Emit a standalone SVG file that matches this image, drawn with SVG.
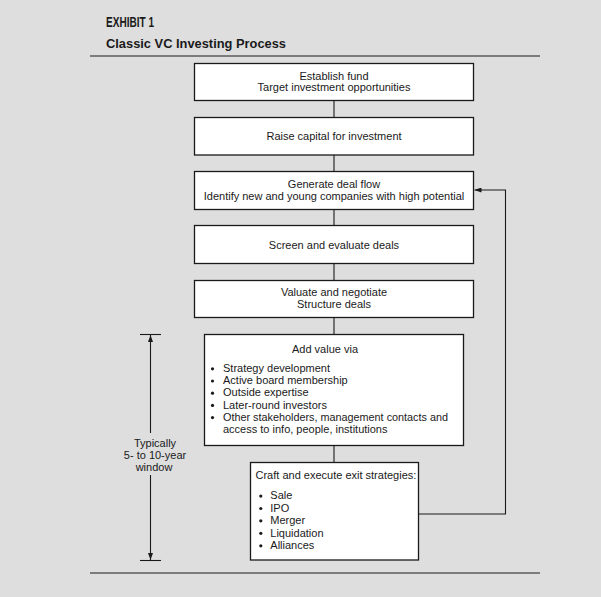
<svg xmlns="http://www.w3.org/2000/svg" width="601" height="597" viewBox="0 0 601 597">
<style>
.bg{fill:#dedede}
.box{fill:#fff;stroke:#1a1a1a;stroke-width:1.3}
.rule{stroke:#1a1a1a;stroke-width:1.2}
.ln{fill:none;stroke:#1a1a1a;stroke-width:1.1}
.bul{fill:#1a1a1a}
text{font-family:"Liberation Sans",Arial,sans-serif;font-size:11px;fill:#1a1a1a}
.c{text-anchor:middle}
.t1{font-weight:bold;font-size:14px}
.t2{font-weight:bold;font-size:13px}
</style>
<defs>
<marker id="ah" viewBox="0 0 7 5" refX="7" refY="2.5" markerWidth="7" markerHeight="5" markerUnits="userSpaceOnUse" orient="auto">
<path d="M0,0 L7,2.5 L0,5 Z" fill="#1a1a1a"/>
</marker>
</defs>
<rect class="bg" x="0" y="0" width="601" height="597"/>
<g id="title">
<text class="t1" x="106" y="27" textLength="48" lengthAdjust="spacingAndGlyphs">EXHIBIT 1</text>
<text class="t2" x="106" y="48" textLength="180" lengthAdjust="spacingAndGlyphs">Classic VC Investing Process</text>
</g>
<line class="rule" x1="90" y1="56" x2="540" y2="56"/>
<line class="rule" x1="90" y1="573" x2="540" y2="573"/>
<g id="connectors">
<line class="ln" x1="334" y1="100" x2="334" y2="117"/>
<line class="ln" x1="334" y1="155" x2="334" y2="171"/>
<line class="ln" x1="334" y1="209" x2="334" y2="225"/>
<line class="ln" x1="334" y1="263" x2="334" y2="280"/>
<line class="ln" x1="334" y1="317" x2="334" y2="334"/>
<line class="ln" x1="334" y1="445" x2="334" y2="462"/>
<polyline class="ln" points="418,514 505.5,514 505.5,190 474.5,190" marker-end="url(#ah)"/>
<line class="ln" x1="150.5" y1="433" x2="150.5" y2="335" marker-end="url(#ah)"/>
<line class="ln" x1="150.5" y1="475" x2="150.5" y2="560" marker-end="url(#ah)"/>
<line class="ln" x1="140" y1="334.5" x2="161" y2="334.5"/>
<line class="ln" x1="140" y1="560.5" x2="161" y2="560.5"/>
</g>
<g id="window-label">
<text class="c" x="155" y="447">Typically</text>
<text class="c" x="155" y="459">5- to 10-year</text>
<text class="c" x="154" y="470.5">window</text>
</g>
<g id="n1">
<rect class="box" x="194.5" y="63.5" width="279" height="37"/>
<text class="c" x="334" y="79.5">Establish fund</text>
<text class="c" x="334" y="91">Target investment opportunities</text>
</g>
<g id="n2">
<rect class="box" x="194.5" y="117.5" width="279" height="37.5"/>
<text class="c" x="334" y="140">Raise capital for investment</text>
</g>
<g id="n3">
<rect class="box" x="194.5" y="171.5" width="279" height="38"/>
<text class="c" x="334" y="187.5">Generate deal flow</text>
<text class="c" x="334" y="199.5">Identify new and young companies with high potential</text>
</g>
<g id="n4">
<rect class="box" x="194.5" y="225.5" width="279" height="38"/>
<text class="c" x="334" y="248.5">Screen and evaluate deals</text>
</g>
<g id="n5">
<rect class="box" x="194.5" y="280.5" width="279" height="37"/>
<text class="c" x="334" y="296">Valuate and negotiate</text>
<text class="c" x="334" y="308">Structure deals</text>
</g>
<g id="n6">
<rect class="box" x="204.5" y="334.5" width="259" height="111"/>
<text class="c" x="325" y="352.5">Add value via</text>
<circle class="bul" cx="212.5" cy="368.8" r="1.6"/><text x="223" y="372">Strategy development</text>
<circle class="bul" cx="212.5" cy="381" r="1.6"/><text x="223" y="384.2">Active board membership</text>
<circle class="bul" cx="212.5" cy="393.2" r="1.6"/><text x="223" y="396.4">Outside expertise</text>
<circle class="bul" cx="212.5" cy="405.4" r="1.6"/><text x="223" y="408.6">Later-round investors</text>
<circle class="bul" cx="212.5" cy="417.6" r="1.6"/><text x="223" y="420.8" textLength="225" lengthAdjust="spacingAndGlyphs">Other stakeholders, management contacts and</text>
<text x="223" y="433">access to info, people, institutions</text>
</g>
<g id="n7">
<rect class="box" x="250.5" y="462.5" width="168" height="97.5"/>
<text x="255.5" y="478.5">Craft and execute exit strategies:</text>
<circle class="bul" cx="260.8" cy="496.1" r="1.6"/><text x="270.3" y="499.3">Sale</text>
<circle class="bul" cx="260.8" cy="508.5" r="1.6"/><text x="270.3" y="511.7">IPO</text>
<circle class="bul" cx="260.8" cy="520.8" r="1.6"/><text x="270.3" y="524">Merger</text>
<circle class="bul" cx="260.8" cy="533.3" r="1.6"/><text x="270.3" y="536.5">Liquidation</text>
<circle class="bul" cx="260.8" cy="545.8" r="1.6"/><text x="270.3" y="549">Alliances</text>
</g>
</svg>
